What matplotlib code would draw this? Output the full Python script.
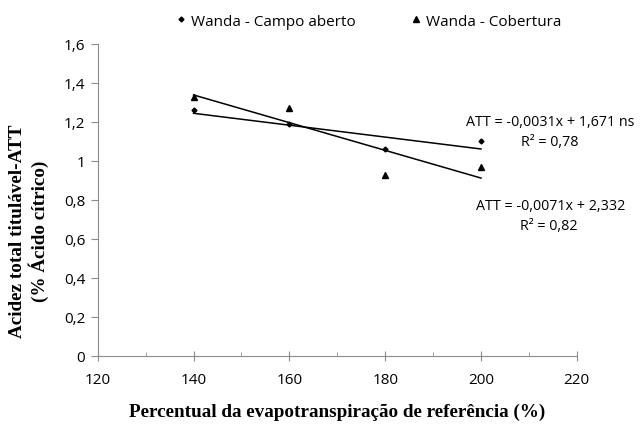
import matplotlib

matplotlib.use("Agg")
import matplotlib.pyplot as plt
import numpy as np
from matplotlib.ticker import FixedLocator, FuncFormatter, MultipleLocator

# data
x_vals = [140, 160, 180, 200]
campo = [1.26, 1.19, 1.06, 1.10]
cobertura = [1.33, 1.27, 0.93, 0.97]
series_names = ["Wanda - Campo aberto", "Wanda - Cobertura"]
eq_campo = ["ATT = -0,0031x + 1,671 ns", "R² = 0,78"]
eq_cob = ["ATT = -0,0071x + 2,332", "R² = 0,82"]

sans = ["Open Sans", "DejaVu Sans"]
serif = ["Liberation Serif", "DejaVu Serif"]
fs = 11

fig = plt.figure(figsize=(6.43, 4.27), dpi=100)
ax = fig.add_axes([0.152, 0.164, 0.745, 0.731])

ax.plot(x_vals, campo, "D", color="black", ms=2.5, label=series_names[0])
ax.plot(x_vals, cobertura, "^", color="black", ms=5, label=series_names[1])

xs = np.array([x_vals[0], x_vals[-1]])
for ys in (campo, cobertura):
    k, b = np.polyfit(x_vals, ys, 1)
    ax.plot(xs, k * xs + b, color="black", lw=1.1)

ax.set_xlim(120, 220)
ax.set_ylim(0, 1.6)
ax.xaxis.set_major_locator(MultipleLocator(20))
ax.xaxis.set_minor_locator(MultipleLocator(10))
ax.yaxis.set_major_locator(FixedLocator(np.arange(0, 1.61, 0.2)))


def comma(v, pos):
    s = f"{v:.1f}".rstrip("0").rstrip(".")
    return s.replace(".", ",")


ax.yaxis.set_major_formatter(FuncFormatter(comma))
for sp in ("top", "right"):
    ax.spines[sp].set_visible(False)
for sp in ("left", "bottom"):
    ax.spines[sp].set_color("#8c8c8c")
ax.tick_params(axis="x", which="major", direction="inout", length=7, color="#8c8c8c", pad=8)
ax.tick_params(axis="x", which="minor", direction="in", length=3, color="#8c8c8c")
ax.tick_params(axis="y", direction="out", length=5, color="#8c8c8c", pad=4)
for lab in ax.get_xticklabels() + ax.get_yticklabels():
    lab.set_family(sans)
    lab.set_fontsize(fs)

afs = 10.3
ax.text(214.4, 1.20, eq_campo[0], ha="center", va="center", fontsize=afs, family=sans)
ax.text(214.4, 1.097, eq_campo[1], ha="center", va="center", fontsize=afs, family=sans)
ax.text(214.6, 0.769, eq_cob[0], ha="center", va="center", fontsize=afs, family=sans)
ax.text(214.2, 0.667, eq_cob[1], ha="center", va="center", fontsize=afs, family=sans)

fig.legend(*ax.get_legend_handles_labels(), loc="center", bbox_to_anchor=(368 / 643, 1 - 22 / 427),
           ncol=2, frameon=False, prop={"family": sans, "size": fs}, handletextpad=0.3,
           columnspacing=3.5, handlelength=0.8)

fig.text(0.045, 0.459, "Acidez total titulável-ATT\n(% Ácido cítrico)", rotation=90,
         ha="center", va="center", family=serif, fontweight="bold", fontsize=13.8,
         linespacing=1.1)
fig.text(0.525, 0.035, "Percentual da evapotranspiração de referência (%)", ha="center",
         va="center", family=serif, fontweight="bold", fontsize=13.8)

fig.savefig("out.png", dpi=100)
plt.close(fig)
